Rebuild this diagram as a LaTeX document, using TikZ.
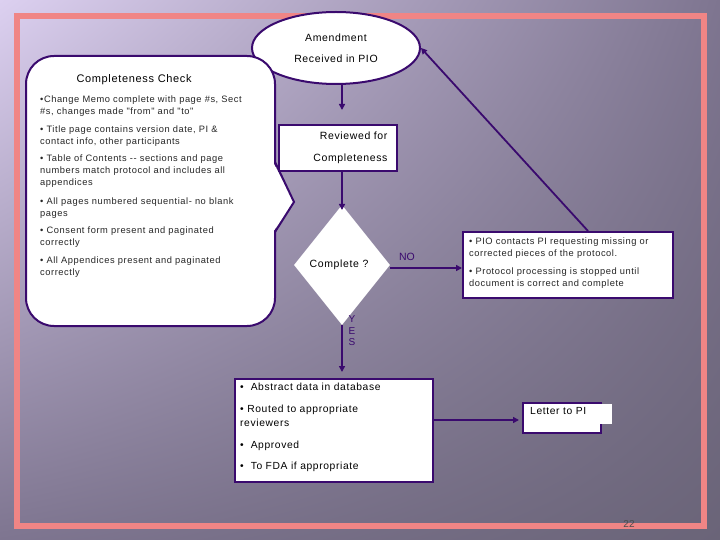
\documentclass[tikz,border=0pt]{standalone}
\usepackage{fontspec}
\setmainfont{Liberation Sans}
\newfontfamily\sps[LetterSpace=6]{Liberation Sans}
\usetikzlibrary{shapes.geometric,arrows.meta,shadings}
\definecolor{dp}{HTML}{3A0A6E}
\definecolor{bgd}{HTML}{6A6478}
\definecolor{bgm}{HTML}{7E7590}
\definecolor{bgl}{HTML}{DCD0F0}
\definecolor{pinkb}{HTML}{F08585}
\begin{document}
\begin{tikzpicture}[x=1pt,y=-1pt,
  box/.style={draw=dp,line width=2pt,fill=white},
  arr/.style={draw=dp,line width=1.8pt,-{Triangle[length=6pt,width=6pt]}},
  sm/.style={font=\sps\fontsize{9.3}{12}\selectfont,align=left,anchor=north west,inner sep=0pt,text=black!85},
  md/.style={font=\sps\fontsize{10.3}{14}\selectfont,align=left,anchor=north west,inner sep=0pt},
  lab/.style={font=\fontsize{10.5}{14}\selectfont,text=dp}]
\useasboundingbox (0,0) rectangle (720,540);
\shade[upper left=bgl,upper right=bgm,lower left=bgm,lower right=bgd] (0,0) rectangle (720,540);
\draw[pinkb,line width=6pt] (17,16) rectangle (704,526);
% ellipse
\node[ellipse,box,minimum width=168,minimum height=72,align=center,font=\sps\fontsize{10.5}{21}\selectfont] (amd) at (336,48) {Amendment\\Received in PIO};
% callout
\draw[box,rounded corners=28] (26,56) rectangle (275,326);
\fill[white] (273,162) -- (294,202) -- (273,232) -- cycle;
\draw[dp,line width=2pt] (275,162) -- (294,202) -- (275,232);
\node[font=\sps\fontsize{11}{12}\selectfont,anchor=west] (cc) at (73,80) {Completeness Check};
\node[sm] (b1) at (40,96) {\textbullet Change Memo complete with page \#s, Sect\\\#s, changes made "from" and "to"};
\node[sm] (b2) at (40,126) {\textbullet\ Title page contains version date, PI \&\\contact info, other participants};
\node[sm] (b3) at (40,155) {\textbullet\ Table of Contents -- sections and page\\numbers match protocol and includes all\\appendices};
\node[sm] (b4) at (40,198) {\textbullet\ All pages numbered sequential- no blank\\pages};
\node[sm] (b5) at (40,227) {\textbullet\ Consent form present and paginated\\correctly};
\node[sm] (b6) at (40,257) {\textbullet\ All Appendices present and paginated\\correctly};
% reviewed
\node[box,minimum width=118,minimum height=46,inner sep=0pt] (rev) at (338,148) {};
\node[font=\sps\fontsize{10.5}{22}\selectfont,align=right,anchor=east] (revt) at (391,148) {Reviewed for\\Completeness};
% diamond
\node[diamond,fill=white,minimum width=96,minimum height=120,inner sep=0pt] (dec) at (342,265) {};
\node[font=\sps\fontsize{10.5}{12}\selectfont] (dect) at (339,265) {Complete ?};
% right box
\node[box,minimum width=210,minimum height=66,anchor=north west] (pio) at (462,231) {};
\node[sm] (p1) at (469,238) {\textbullet\ PIO contacts PI requesting missing or\\corrected pieces of the protocol.};
\node[sm] (p2) at (469,268) {\textbullet\ Protocol processing is stopped until\\document is correct and complete};
% bottom box
\node[box,minimum width=198,minimum height=103,anchor=north west] (abs) at (234,378) {};
\node[md] (a1) at (240,383) {\textbullet\ \ Abstract data in database};
\node[md] (a2) at (240,405) {\textbullet\ Routed to appropriate\\reviewers};
\node[md] (a3) at (240,441) {\textbullet\ \ Approved};
\node[md] (a4) at (240,462) {\textbullet\ \ To FDA if appropriate};
% letter
\node[box,minimum width=78,minimum height=30,anchor=north west] (let) at (522,402) {};
\fill[white] (528,404) rectangle (612,424);
\node[md] (lt) at (530,407) {Letter to PI};
% arrows
\draw[arr] (342,84) -- (342,110);
\draw[arr] (342,172) -- (342,210);
\draw[arr] (390,268) -- (462,268);
\node[lab] (no) at (407,257) {NO};
\draw[arr] (588,231) -- (amd.east);
\draw[arr] (342,325) -- (342,372);
\node[lab,align=center,font=\fontsize{10}{11.5}\selectfont] (yes) at (352,331) {Y\\E\\S};
\draw[arr] (432,420) -- (519,420);
\node[font=\fontsize{10}{12}\selectfont,text=black!70] (pg) at (629,524) {22};
\end{tikzpicture}
\end{document}
